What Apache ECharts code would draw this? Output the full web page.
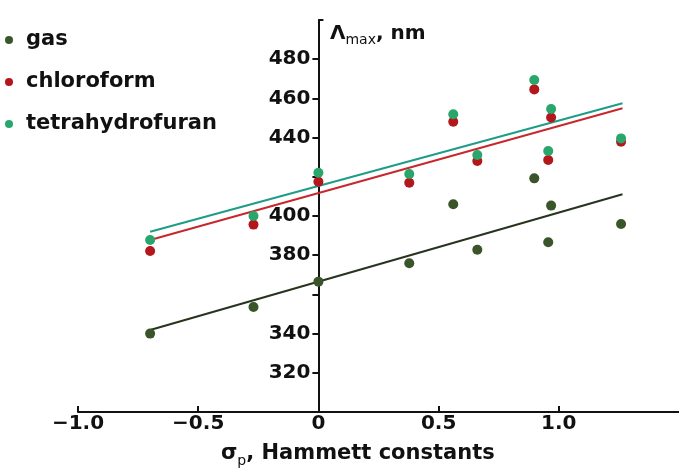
<!DOCTYPE html>
<html>
<head>
<meta charset="utf-8">
<script src="https://cdn.jsdelivr.net/npm/echarts@6/dist/echarts.min.js"></script>
<style>
  html, body { margin: 0; padding: 0; background: #ffffff; }
  #chart { width: 679px; height: 468px; }
</style>
</head>
<body>
<div id="chart"></div>
<script>
// Hammett constants (sigma_p) of the substituents
const sigma = [-0.70, -0.27, 0, 0.378, 0.561, 0.661, 0.898, 0.956, 0.968, 1.259];
// absorption maxima, nm
const gas        = [340.0, 353.6, 366.5, 375.9, 406.0, 382.8, 419.2, 386.6, 405.3, 395.9];
const chloroform = [382.1, 395.6, 417.5, 417.0, 448.1, 428.1, 464.6, 428.6, 450.3, 437.9];
const thf        = [387.8, 400.0, 422.1, 421.4, 451.9, 431.1, 469.4, 433.2, 454.6, 439.6];

// linear trend lines: end points
const fitSigma      = [-0.70, 1.265];
const gasFit        = [341.8, 411.1];
const chloroformFit = [387.8, 455.0];
const thfFit        = [392.0, 457.5];

const seriesNames = ['gas', 'chloroform', 'tetrahydrofuran'];
const yTickValues  = [320, 340, 360, 380, 400, 420, 440, 460, 480];
const yLabelValues = [320, 340, 380, 400, 440, 460, 480];
const xTickValues  = [-1, -0.5, 0, 0.5, 1];

const X_MIN = -1, X_MAX = 1.5;
const GRID = { left: 78, right: 0, top: 20, bottom: 56 };
const WIDTH = 679;

const colors = {
  gas: '#3a5529', chloroform: '#b3161b', thf: '#29a66b',
  gasLine: '#27331f', chloroformLine: '#c8282c', thfLine: '#1f9c86'
};
const FONT = 'DejaVu Sans';

const pairs = (xs, ys) => xs.map((x, i) => [x, ys[i]]);

// the vertical axis sits at sigma = 0: shift it from the grid's left edge
const gridWidth = WIDTH - GRID.left - GRID.right;
const yAxisShift = gridWidth * (0 - X_MIN) / (X_MAX - X_MIN);

const chart = echarts.init(document.getElementById('chart'), null, { renderer: 'canvas' });

const lineSeries = (name, ys, color) => ({
  name: name, type: 'line', data: pairs(fitSigma, ys),
  symbol: 'none', lineStyle: { color: color, width: 2 }, z: 1, silent: true
});
const dotSeries = (name, ys, color) => ({
  name: name, type: 'scatter', data: pairs(sigma, ys),
  symbolSize: 10, itemStyle: { color: color, opacity: 1 }, z: 3
});

chart.setOption({
  animation: false,
  backgroundColor: '#ffffff',
  grid: Object.assign({ containLabel: false }, GRID),
  title: [
    {
      text: '{a|Λ}{b|max}{a|, nm}',
      left: 325, top: 19,
      textStyle: {
        rich: {
          a: { fontFamily: FONT, fontWeight: 'bold', fontSize: 20, color: '#111', verticalAlign: 'bottom' },
          b: { fontFamily: FONT, fontWeight: 'normal', fontSize: 14, color: '#111', verticalAlign: 'bottom', padding: [0, 0, -3, 0] }
        }
      }
    },
    {
      text: '{a|σ}{b|p}{a|, Hammett constants}',
      left: 216, top: 438,
      textStyle: {
        rich: {
          a: { fontFamily: FONT, fontWeight: 'bold', fontSize: 21, color: '#111', verticalAlign: 'bottom' },
          b: { fontFamily: FONT, fontWeight: 'normal', fontSize: 14, color: '#111', verticalAlign: 'bottom', padding: [0, 0, -4, 0] }
        }
      }
    }
  ],
  legend: {
    data: seriesNames,
    orient: 'vertical',
    left: 0, top: 23,
    icon: 'circle',
    itemWidth: 24, itemHeight: 8,
    itemGap: 18,
    textStyle: { fontFamily: FONT, fontWeight: 'bold', fontSize: 21, color: '#111', lineHeight: 24 }
  },
  xAxis: {
    type: 'value', min: X_MIN, max: X_MAX, interval: 0.5,
    splitLine: { show: false },
    axisLine: { onZero: false, lineStyle: { color: '#111', width: 2 } },
    axisTick: { show: true, inside: true, length: 6, customValues: xTickValues, lineStyle: { color: '#111', width: 2 } },
    axisLabel: {
      customValues: xTickValues, margin: 2,
      fontFamily: FONT, fontWeight: 'bold', fontSize: 20, color: '#111',
      formatter: v => v === 0 ? '0' : (v < 0 ? '\u2212' : '') + Math.abs(v).toFixed(1)
    }
  },
  yAxis: {
    type: 'value', min: 300, max: 500, interval: 20,
    position: 'left',
    offset: -yAxisShift,
    splitLine: { show: false },
    axisLine: { onZero: false, lineStyle: { color: '#111', width: 2 } },
    axisTick: { show: true, inside: false, length: 6, customValues: yTickValues, lineStyle: { color: '#111', width: 2 } },
    axisLabel: {
      customValues: yLabelValues, margin: 8,
      fontFamily: FONT, fontWeight: 'bold', fontSize: 20, color: '#111'
    }
  },
  series: [
    lineSeries('gas fit', gasFit, colors.gasLine),
    lineSeries('chloroform fit', chloroformFit, colors.chloroformLine),
    lineSeries('tetrahydrofuran fit', thfFit, colors.thfLine),
    dotSeries('gas', gas, colors.gas),
    dotSeries('chloroform', chloroform, colors.chloroform),
    dotSeries('tetrahydrofuran', thf, colors.thf)
  ]
});

// short cap at the top end of the vertical axis
const axisTop = chart.convertToPixel({ gridIndex: 0 }, [0, 500]);
chart.setOption({
  graphic: [{
    type: 'line', silent: true,
    shape: { x1: axisTop[0], y1: axisTop[1], x2: axisTop[0] + 5, y2: axisTop[1] },
    style: { stroke: '#111', lineWidth: 2 }
  }]
});
</script>
</body>
</html>
